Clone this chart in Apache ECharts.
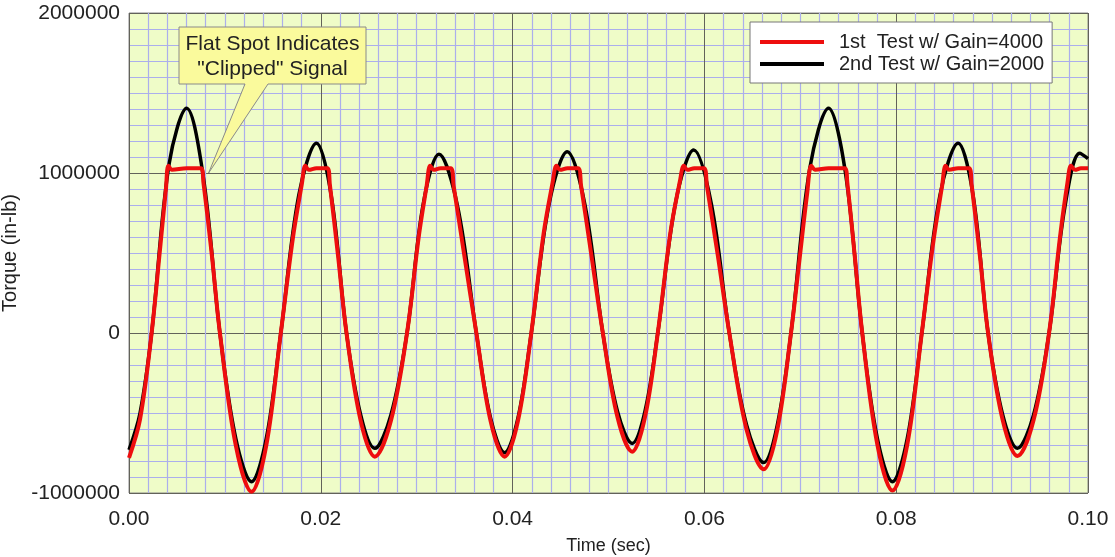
<!DOCTYPE html>
<html>
<head>
<meta charset="utf-8">
<script src="https://cdn.jsdelivr.net/npm/echarts@6/dist/echarts.min.js"></script>
<style>
html,body{margin:0;padding:0;background:#fff;}
#c{width:1115px;height:557px;}
</style>
</head>
<body>
<div id="c"></div>
<script>
// ---- data (time in sec, torque in in-lb) ----
const seriesNames = ['1st  Test w/ Gain=4000', '2nd Test w/ Gain=2000'];

const blackTime = [
  0.00000, 0.00115, 0.00236,
  0.00419, 0.00601, 0.00774, 0.00948,
  0.01114, 0.01278, 0.01431, 0.01583,
  0.01770, 0.01955, 0.02111, 0.02268,
  0.02416, 0.02563, 0.02731, 0.02899,
  0.03066, 0.03232, 0.03427, 0.03622,
  0.03770, 0.03917, 0.04056, 0.04195,
  0.04382, 0.04570, 0.04755, 0.04941,
  0.05094, 0.05247, 0.05380, 0.05514,
  0.05701, 0.05889, 0.06075, 0.06260,
  0.06440, 0.06618, 0.06760, 0.06903,
  0.07099, 0.07295, 0.07471, 0.07646,
  0.07804, 0.07961, 0.08115, 0.08267,
  0.08456, 0.08646, 0.08802, 0.08958,
  0.09111, 0.09264, 0.09432, 0.09594,
  0.09757, 0.09914, 0.10000
];
const blackTorque = [
  -730000, -500000, 0,
  1060000, 1404000, 980000, 0,
  -660000, -929000, -660000, 0,
  860000, 1186000, 850000, 0,
  -512000, -721000, -512000, 0,
  800000, 1117000, 790000, 0,
  -531000, -748000, -531000, 0,
  810000, 1133000, 800000, 0,
  -490000, -690000, -490000, 0,
  820000, 1144000, 800000, 0,
  -575000, -810000, -575000, 0,
  1030000, 1404000, 1000000, 0,
  -660000, -929000, -660000, 0,
  860000, 1186000, 860000, 0,
  -512000, -721000, -512000, 0,
  780000, 1123000, 1090000
];

const redTime = [
  0.00000, 0.00115, 0.00236,
  0.00323, 0.00385, 0.00411, 0.00448, 0.00601, 0.00750, 0.00776, 0.00865, 0.00948,
  0.01114, 0.01278, 0.01431, 0.01583,
  0.01708, 0.01802, 0.01839, 0.01875, 0.01955, 0.02068, 0.02094, 0.02182, 0.02268,
  0.02416, 0.02563, 0.02731, 0.02899,
  0.03021, 0.03104, 0.03141, 0.03177, 0.03250, 0.03354, 0.03385, 0.03500, 0.03622,
  0.03770, 0.03917, 0.04056, 0.04195,
  0.04323, 0.04417, 0.04458, 0.04495, 0.04573, 0.04682, 0.04714, 0.04823, 0.04941,
  0.05094, 0.05247, 0.05380, 0.05514,
  0.05646, 0.05745, 0.05786, 0.05823, 0.05896, 0.05995, 0.06026, 0.06141, 0.06260,
  0.06440, 0.06618, 0.06760, 0.06903,
  0.06990, 0.07073, 0.07115, 0.07156, 0.07295, 0.07464, 0.07490, 0.07568, 0.07646,
  0.07804, 0.07961, 0.08115, 0.08267,
  0.08385, 0.08479, 0.08516, 0.08552, 0.08646, 0.08760, 0.08786, 0.08875, 0.08958,
  0.09111, 0.09264, 0.09432, 0.09594,
  0.09708, 0.09786, 0.09823, 0.09865, 0.09927, 0.10000
];
const redTorque = [
  -780000, -540000, 0,
  520000, 900000, 1045000, 1020000, 1030000, 1030000, 940000, 480000, 0,
  -704000, -992000, -704000, 0,
  590000, 930000, 1045000, 1020000, 1030000, 1030000, 930000, 470000, 0,
  -549000, -773000, -549000, 0,
  600000, 920000, 1045000, 1020000, 1030000, 1030000, 920000, 470000, 0,
  -549000, -773000, -549000, 0,
  620000, 940000, 1045000, 1020000, 1030000, 1030000, 920000, 480000, 0,
  -527000, -742000, -527000, 0,
  630000, 950000, 1045000, 1020000, 1030000, 1030000, 920000, 480000, 0,
  -605000, -852000, -605000, 0,
  450000, 880000, 1045000, 1020000, 1030000, 1030000, 940000, 480000, 0,
  -699000, -985000, -699000, 0,
  560000, 920000, 1045000, 1020000, 1030000, 1030000, 930000, 470000, 0,
  -546000, -769000, -546000, 0,
  600000, 940000, 1045000, 1020000, 1030000, 1030000
];

const xTicks = { min: 0, max: 0.1, step: 0.02 };
const yTicks = { min: -1000000, max: 2000000, step: 1000000 };
const calloutLines = ['Flat Spot Indicates', '"Clipped" Signal'];
const calloutTarget = [0.0083, 1000000];

const FONT = '"Liberation Sans", Arial, sans-serif';
const zip = (xs, ys) => xs.map((x, i) => [x, ys[i]]);
const MINOR = { color: '#abaeec', width: 1.2 };
const MAJOR = { color: '#62625a', width: 1 };

const chart = echarts.init(document.getElementById('c'), null, { renderer: 'canvas' });
chart.setOption({
  animation: false,
  backgroundColor: '#ffffff',
  textStyle: { fontFamily: FONT },
  grid: {
    left: 129, right: 27, top: 13, bottom: 64,
    show: true, backgroundColor: '#effcc8', borderColor: '#8a8a8a', borderWidth: 1,
    outerBoundsMode: 'none', containLabel: false
  },
  legend: {
    orient: 'vertical', left: 750, top: 22,
    data: [seriesNames[0], seriesNames[1]],
    backgroundColor: '#ffffff', borderColor: '#777', borderWidth: 1,
    padding: [10, 8, 9, 10], itemGap: 2,
    itemWidth: 64, itemHeight: 4, icon: 'rect',
    textStyle: { fontFamily: FONT, fontSize: 20, color: '#222', padding: [0, 0, 0, 10] }
  },
  xAxis: {
    type: 'value', min: xTicks.min, max: xTicks.max, interval: xTicks.step,
    name: 'Time (sec)', nameLocation: 'middle', nameGap: 44,
    nameTextStyle: { fontFamily: FONT, fontSize: 18, color: '#222' },
    axisLine: { show: false }, axisTick: { show: false },
    axisLabel: { fontFamily: FONT, fontSize: 21, color: '#222', margin: 16,
      formatter: v => v.toFixed(2) },
    splitLine: { show: true, lineStyle: MAJOR },
    minorTick: { show: false, splitNumber: 10 },
    minorSplitLine: { show: true, lineStyle: MINOR }
  },
  yAxis: {
    type: 'value', min: yTicks.min, max: yTicks.max, interval: yTicks.step,
    name: 'Torque (in-lb)', nameLocation: 'middle', nameGap: 98,
    nameTextStyle: { fontFamily: FONT, fontSize: 20, color: '#222' },
    axisLine: { show: false }, axisTick: { show: false },
    axisLabel: { fontFamily: FONT, fontSize: 21, color: '#222', margin: 9,
      formatter: v => String(Math.round(v)) },
    splitLine: { show: true, lineStyle: MAJOR },
    minorTick: { show: false, splitNumber: 10 },
    minorSplitLine: { show: true, lineStyle: MINOR }
  },
  series: [
    {
      name: seriesNames[1], type: 'line', data: zip(blackTime, blackTorque),
      showSymbol: false, smooth: 0.35, z: 2,
      lineStyle: { color: '#000000', width: 3.5 }, itemStyle: { color: '#000000' }
    },
    {
      name: seriesNames[0], type: 'line', data: zip(redTime, redTorque),
      showSymbol: false, smooth: 0.35, z: 3,
      lineStyle: { color: '#ee0e0e', width: 4 }, itemStyle: { color: '#ee0e0e' }
    }
  ]
});

// callout box anchored at the clipped spot
const tip = chart.convertToPixel({ gridIndex: 0 }, calloutTarget);
const bx0 = 179, by0 = 27, bx1 = 366, by1 = 84;
chart.setOption({
  graphic: [
    {
      type: 'polygon', z: 100,
      shape: { points: [[bx0, by0], [bx1, by0], [bx1, by1], [268, by1], tip, [245, by1], [bx0, by1]] },
      style: { fill: '#fafa9c', stroke: '#8a8a8a', lineWidth: 1 }
    },
    {
      type: 'text', z: 101, x: (bx0 + bx1) / 2, y: (by0 + by1) / 2 + 1,
      style: {
        text: calloutLines.join('\n'), fontFamily: FONT, fontSize: 21, lineHeight: 25,
        fill: '#222', align: 'center', verticalAlign: 'middle'
      }
    }
  ]
});
</script>
</body>
</html>
